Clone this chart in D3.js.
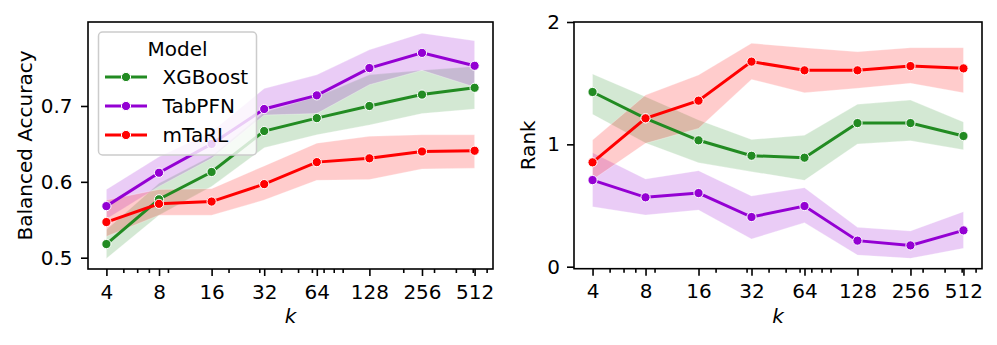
<!DOCTYPE html>
<html>
<head>
<meta charset="utf-8">
<script src="https://cdn.jsdelivr.net/npm/d3@7"></script>
<style>
  body { margin: 0; background: #fff; }
  svg { display: block; font-family: "DejaVu Sans", sans-serif; }
</style>
</head>
<body>
<svg id="chart" width="997" height="345"></svg>
<script>
// Data

const ks = [4, 8, 16, 32, 64, 128, 256, 512]
const minorTicks = [5, 6, 7, 9, 20, 30, 40, 50, 60, 70, 80, 90, 200, 300, 400, 500, 600]
const models = ['XGBoost', 'TabPFN', 'mTaRL']
const colors = ['#228b22', '#9400d3', '#ff0000']

// balanced accuracy: mean, lower and upper band, one row per model
const accMean = [
  [0.518, 0.577, 0.613, 0.667, 0.684, 0.700, 0.715, 0.724],
  [0.568, 0.612, 0.650, 0.696, 0.714, 0.750, 0.770, 0.753],
  [0.547, 0.571, 0.574, 0.597, 0.626, 0.631, 0.640, 0.641]
]
const accLo = [
  [0.499, 0.556, 0.594, 0.645, 0.662, 0.675, 0.690, 0.696],
  [0.551, 0.594, 0.631, 0.688, 0.690, 0.728, 0.747, 0.725],
  [0.528, 0.556, 0.556, 0.576, 0.602, 0.603, 0.617, 0.618]
]
const accHi = [
  [0.537, 0.598, 0.634, 0.692, 0.712, 0.741, 0.747, 0.752],
  [0.590, 0.633, 0.666, 0.723, 0.741, 0.774, 0.796, 0.786],
  [0.576, 0.590, 0.591, 0.621, 0.651, 0.660, 0.662, 0.662]
]

// rank
const rankMean = [
  [1.428, 1.213, 1.033, 0.907, 0.891, 1.174, 1.174, 1.068],
  [0.708, 0.567, 0.602, 0.406, 0.496, 0.213, 0.174, 0.297],
  [0.853, 1.213, 1.357, 1.676, 1.605, 1.605, 1.640, 1.621]
]
const rankLo = [
  [1.245, 1.010, 0.850, 0.777, 0.706, 1.003, 1.030, 0.956],
  [0.490, 0.422, 0.463, 0.226, 0.360, 0.095, 0.068, 0.150],
  [0.710, 1.008, 1.130, 1.531, 1.422, 1.458, 1.499, 1.422]
]
const rankHi = [
  [1.575, 1.390, 1.200, 1.040, 1.074, 1.327, 1.362, 1.183],
  [0.932, 0.717, 0.785, 0.578, 0.646, 0.322, 0.292, 0.450],
  [1.035, 1.403, 1.567, 1.826, 1.790, 1.757, 1.790, 1.790]
]

const accTicks = [0.5, 0.6, 0.7]
const rankTicks = [0, 1, 2]

const svg = d3.select('#chart')
const fontSize = 20

function panel (opts) {
  const { left, right, top, bottom, yDomain, yTicks, yFormat, mean, lo, hi, yLabel, labelX, tickPad } = opts
  const g = svg.append('g')

  const x = d3.scaleLog().base(2)
    .domain([4 * Math.pow(2, -0.35), 512 * Math.pow(2, 0.35)])
    .range([left, right])
  const y = d3.scaleLinear().domain(yDomain).range([bottom, top])

  // bands first, then lines, like matplotlib zorder
  const area = d3.area()
    .x(d => x(d.k))
    .y0(d => y(d.lo))
    .y1(d => y(d.hi))
  const line = d3.line().x(d => x(d.k)).y(d => y(d.v))

  models.forEach((m, i) => {
    const pts = ks.map((k, j) => ({ k, lo: lo[i][j], hi: hi[i][j] }))
    g.append('path')
      .attr('d', area(pts))
      .attr('fill', colors[i])
      .attr('fill-opacity', 0.2)
      .attr('stroke', '#fff')
      .attr('stroke-opacity', 0.35)
      .attr('stroke-width', 0.8)
  })

  models.forEach((m, i) => {
    const pts = ks.map((k, j) => ({ k, v: mean[i][j] }))
    g.append('path')
      .attr('d', line(pts))
      .attr('fill', 'none')
      .attr('stroke', colors[i])
      .attr('stroke-width', 3)
    g.selectAll(null).data(pts).enter().append('circle')
      .attr('cx', d => x(d.k))
      .attr('cy', d => y(d.v))
      .attr('r', 4.6)
      .attr('fill', colors[i])
      .attr('stroke', '#fff')
      .attr('stroke-width', 1)
  })

  // x axis: major + minor ticks
  const xa = g.append('g')
    .attr('transform', `translate(0,${bottom})`)
    .call(d3.axisBottom(x).tickValues(ks).tickFormat(d3.format('d')).tickSize(7).tickPadding(8.5))
  xa.select('.domain').remove()
  g.append('g')
    .attr('transform', `translate(0,${bottom})`)
    .call(d3.axisBottom(x).tickValues(minorTicks).tickFormat('').tickSize(4))
    .select('.domain').remove()

  const ya = g.append('g')
    .attr('transform', `translate(${left},0)`)
    .call(d3.axisLeft(y).tickValues(yTicks).tickFormat(yFormat).tickSize(7).tickPadding(tickPad))
  ya.select('.domain').remove()

  g.selectAll('.tick line').attr('stroke', '#000').attr('stroke-width', 1.6)
  g.selectAll('.tick text')
    .attr('fill', '#000')
    .style('font-size', fontSize + 'px')
    .style('font-family', '"DejaVu Sans", sans-serif')

  // frame
  g.append('rect')
    .attr('x', left).attr('y', top)
    .attr('width', right - left).attr('height', bottom - top)
    .attr('fill', 'none').attr('stroke', '#000').attr('stroke-width', 1.6)

  g.append('text')
    .attr('transform', `translate(${labelX},${(top + bottom) / 2}) rotate(-90)`)
    .attr('text-anchor', 'middle')
    .attr('dominant-baseline', 'middle')
    .style('font-size', fontSize + 'px')
    .text(yLabel)

  g.append('text')
    .attr('x', (left + right) / 2)
    .attr('y', 323)
    .attr('text-anchor', 'middle')
    .style('font-size', fontSize + 'px')
    .style('font-style', 'italic')
    .text('k')

  return { g, x, y }
}

const accPanel = panel({
  left: 88, right: 493, top: 22, bottom: 269,
  yDomain: [0.4851, 0.8107],
  yTicks: accTicks,
  yFormat: d3.format('.1f'),
  mean: accMean, lo: accLo, hi: accHi,
  yLabel: 'Balanced Accuracy',
  labelX: 26,
  tickPad: 8.5
})

panel({
  left: 574, right: 982, top: 22, bottom: 268.7,
  yDomain: [-0.0164, 2],
  yTicks: rankTicks,
  yFormat: d3.format('d'),
  mean: rankMean, lo: rankLo, hi: rankHi,
  yLabel: 'Rank',
  labelX: 529,
  tickPad: 7
})

// Legend on the left panel
const leg = accPanel.g.append('g')
leg.append('rect')
  .attr('x', 98.5).attr('y', 32)
  .attr('width', 158).attr('height', 123)
  .attr('rx', 4)
  .attr('fill', '#fff').attr('fill-opacity', 0.8)
  .attr('stroke', '#cccccc').attr('stroke-width', 1.5)
leg.append('text')
  .attr('x', 177.5).attr('y', 55.5)
  .attr('text-anchor', 'middle')
  .style('font-size', fontSize + 'px')
  .text('Model')

models.forEach((m, i) => {
  const cy = 77 + i * 29
  leg.append('line')
    .attr('x1', 105).attr('x2', 147)
    .attr('y1', cy).attr('y2', cy)
    .attr('stroke', colors[i]).attr('stroke-width', 3)
  leg.append('circle')
    .attr('cx', 126).attr('cy', cy).attr('r', 4.6)
    .attr('fill', colors[i]).attr('stroke', '#fff').attr('stroke-width', 1)
  leg.append('text')
    .attr('x', 162.5).attr('y', cy + 7.3)
    .style('font-size', fontSize + 'px')
    .text(m)
})
</script>
</body>
</html>
